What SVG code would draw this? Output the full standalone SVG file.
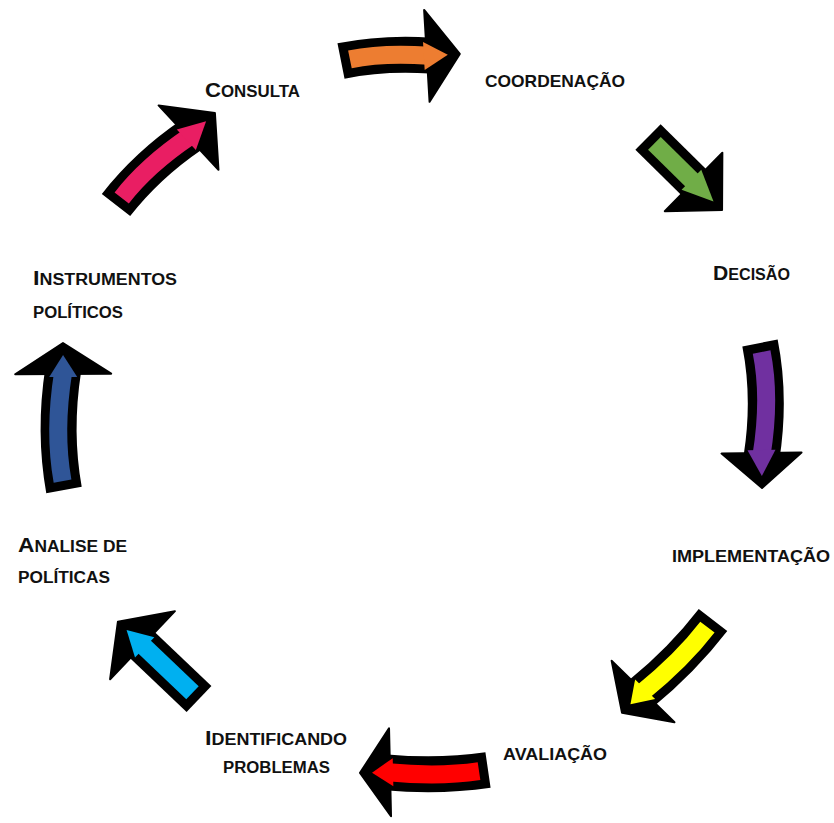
<svg xmlns="http://www.w3.org/2000/svg" width="834" height="823" viewBox="0 0 834 823">
<style>
.so{fill:none;stroke:#000;stroke-width:36}
.ho{fill:#000;stroke:#000;stroke-width:2;stroke-linejoin:round}
.si{fill:none;stroke-width:18}
.lbl{font-family:"Liberation Sans",Arial,sans-serif;font-weight:bold;fill:#111}
.b{font-size:21px}
.s{font-size:16px}
</style>
<rect width="834" height="823" fill="#fff"/>
<g id="connectors">
  <g id="arrow-orange" transform="translate(341,61) rotate(-3.4)">
    <path class="so" d="M0,0 Q43,-6 90,0"/>
    <polygon class="ho" points="86,-46 119,0 86,46"/>
    <path class="si" stroke="#ED7D31" d="M9,-1.1 Q43,-6 88,0"/>
    <polygon fill="#ED7D31" points="83,-14 107,0 83,14"/>
  </g>
  <g id="arrow-green" transform="translate(648,137) rotate(44.6)">
    <path class="so" d="M0,0 L68,0"/>
    <polygon class="ho" points="64,-41 104,0 64,41"/>
    <path class="si" stroke="#70AD47" d="M9,0 L66,0"/>
    <polygon fill="#70AD47" points="61,-14 92,0 61,14"/>
  </g>
  <g id="arrow-purple" transform="translate(760,343) rotate(89.2)">
    <path class="so" d="M0,0 Q55,-10 114,0"/>
    <polygon class="ho" points="110,-40 145,0 110,40"/>
    <path class="si" stroke="#7030A0" d="M9,-1.5 Q55,-10 112,0"/>
    <polygon fill="#7030A0" points="107,-14 133,0 107,14"/>
  </g>
  <g id="arrow-yellow" transform="translate(713,620) rotate(134.4)">
    <path class="so" d="M0,0 Q50,-6 104,0"/>
    <polygon class="ho" points="100,-44 130,0 100,44"/>
    <path class="si" stroke="#FFFF00" d="M9,-1 Q50,-6 102,0"/>
    <polygon fill="#FFFF00" points="97,-14 118,0 97,14"/>
  </g>
  <g id="arrow-red" transform="translate(488,770) rotate(178.7)">
    <path class="so" d="M0,0 Q49,-6 102,0"/>
    <polygon class="ho" points="98,-44 128,0 98,44"/>
    <path class="si" stroke="#FF0000" d="M9,-1 Q49,-6 100,0"/>
    <polygon fill="#FF0000" points="95,-14 116,0 95,14"/>
  </g>
  <g id="arrow-cyan" transform="translate(199,699) rotate(223.6)">
    <path class="so" d="M0,0 L82,0"/>
    <polygon class="ho" points="78,-47 112,0 78,47"/>
    <path class="si" stroke="#00B0F0" d="M9,0 L80,0"/>
    <polygon fill="#00B0F0" points="75,-14 100,0 75,14"/>
  </g>
  <g id="arrow-blue" transform="translate(64,490) rotate(-90.4)">
    <path class="so" d="M0,0 Q58,-10 120,0"/>
    <polygon class="ho" points="116,-48 147,0 116,48"/>
    <path class="si" stroke="#2F5597" d="M9,-1.4 Q58,-10 118,0"/>
    <polygon fill="#2F5597" points="113,-14 135,0 113,14"/>
  </g>
  <g id="arrow-pink" transform="translate(116,205) rotate(-42.9)">
    <path class="so" d="M0,0 Q50,-8 103,0"/>
    <polygon class="ho" points="99,-44 135,0 99,44"/>
    <path class="si" stroke="#E91E63" d="M9,-1.3 Q50,-8 101,0"/>
    <polygon fill="#E91E63" points="96,-14 123,0 96,14"/>
  </g>
</g>
<g id="node-consulta"><text class="lbl" x="205" y="97" textLength="95" lengthAdjust="spacingAndGlyphs"><tspan class="b">C</tspan><tspan class="s">ONSULTA</tspan></text></g>
<g id="node-coordenacao"><text class="lbl" x="485" y="87" textLength="140" lengthAdjust="spacingAndGlyphs"><tspan style="font-size:17px">COORDENAÇÃO</tspan></text></g>
<g id="node-decisao"><text class="lbl" x="713" y="280" textLength="77" lengthAdjust="spacingAndGlyphs"><tspan class="b">D</tspan><tspan class="s">ECISÃO</tspan></text></g>
<g id="node-implementacao"><text class="lbl" x="672" y="562" textLength="158" lengthAdjust="spacingAndGlyphs"><tspan class="s">IMPLEMENTAÇÃO</tspan></text></g>
<g id="node-avaliacao"><text class="lbl" x="503" y="760" textLength="104" lengthAdjust="spacingAndGlyphs"><tspan class="s">AVALIAÇÃO</tspan></text></g>
<g id="node-identificando">
  <text class="lbl" x="205" y="745" textLength="142" lengthAdjust="spacingAndGlyphs"><tspan class="b">I</tspan><tspan class="s">DENTIFICANDO</tspan></text>
  <text class="lbl" x="223" y="773" textLength="107" lengthAdjust="spacingAndGlyphs"><tspan class="s">PROBLEMAS</tspan></text>
</g>
<g id="node-analise">
  <text class="lbl" x="18" y="552" textLength="109" lengthAdjust="spacingAndGlyphs"><tspan class="b">A</tspan><tspan class="s">NALISE DE</tspan></text>
  <text class="lbl" x="18" y="583" textLength="92" lengthAdjust="spacingAndGlyphs"><tspan class="s">POLÍTICAS</tspan></text>
</g>
<g id="node-instrumentos">
  <text class="lbl" x="33" y="285" textLength="144" lengthAdjust="spacingAndGlyphs"><tspan class="b">I</tspan><tspan class="s">NSTRUMENTOS</tspan></text>
  <text class="lbl" x="33" y="318" textLength="90" lengthAdjust="spacingAndGlyphs"><tspan class="s">POLÍTICOS</tspan></text>
</g>
</svg>
